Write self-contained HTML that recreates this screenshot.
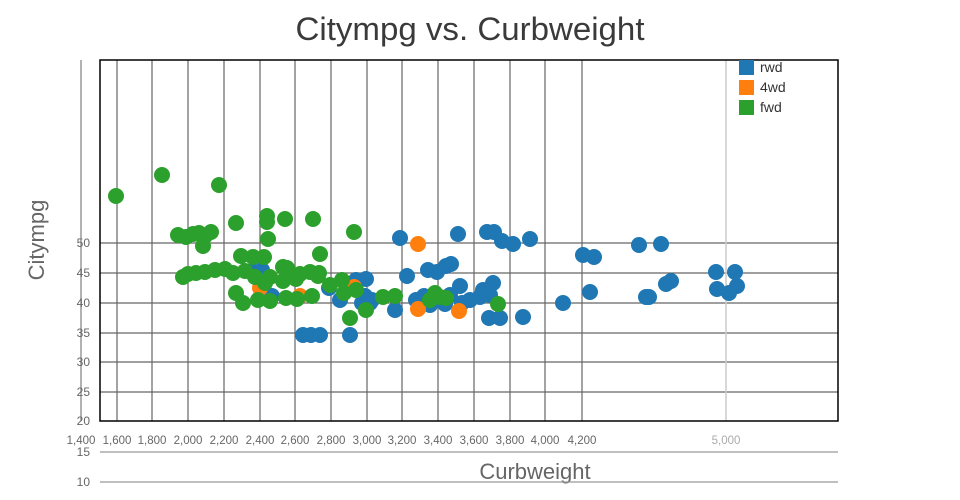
<!DOCTYPE html>
<html><head><meta charset="utf-8"><style>body{margin:0;background:#fff}svg{display:block}text{font-family:"Liberation Sans",sans-serif}</style></head>
<body>
<svg width="960" height="500" xmlns="http://www.w3.org/2000/svg">
<text x="470" y="40" font-size="32" fill="#3a3a3a" text-anchor="middle" textLength="349" lengthAdjust="spacingAndGlyphs">Citympg vs. Curbweight</text>
<text x="44" y="240" font-size="22" fill="#666" text-anchor="middle" transform="rotate(-90 44 240)">Citympg</text>
<text x="535" y="479" font-size="22" fill="#666" text-anchor="middle">Curbweight</text>
<line x1="81" y1="60" x2="81" y2="421" stroke="#999" stroke-width="1.5"/>
<g stroke="#666" stroke-width="1.2">
<line x1="117" y1="60" x2="117" y2="421"/><line x1="152" y1="60" x2="152" y2="421"/><line x1="188" y1="60" x2="188" y2="421"/><line x1="224" y1="60" x2="224" y2="421"/><line x1="260" y1="60" x2="260" y2="421"/><line x1="295" y1="60" x2="295" y2="421"/><line x1="331" y1="60" x2="331" y2="421"/><line x1="367" y1="60" x2="367" y2="421"/><line x1="402" y1="60" x2="402" y2="421"/><line x1="438" y1="60" x2="438" y2="421"/><line x1="474" y1="60" x2="474" y2="421"/><line x1="510" y1="60" x2="510" y2="421"/><line x1="545" y1="60" x2="545" y2="421"/><line x1="582" y1="60" x2="582" y2="421"/>
<line x1="100" y1="243" x2="838" y2="243"/><line x1="100" y1="273" x2="838" y2="273"/><line x1="100" y1="303" x2="838" y2="303"/><line x1="100" y1="333" x2="838" y2="333"/><line x1="100" y1="362" x2="838" y2="362"/><line x1="100" y1="392" x2="838" y2="392"/>
<line x1="100" y1="452" x2="838" y2="452" stroke="#999"/><line x1="100" y1="482" x2="838" y2="482" stroke="#999"/>
</g>
<line x1="726" y1="60" x2="726" y2="421" stroke="#ccc" stroke-width="1.5"/>
<rect x="100" y="60" width="738" height="361" fill="none" stroke="#000" stroke-width="1.5"/>
<g font-size="12" fill="#666" text-anchor="end">
<text x="90" y="247">50</text><text x="90" y="277">45</text><text x="90" y="307">40</text><text x="90" y="337">35</text><text x="90" y="366">30</text><text x="90" y="396">25</text><text x="90" y="425">20</text><text x="90" y="456">15</text><text x="90" y="486">10</text>
</g>
<g font-size="11.5" fill="#666" text-anchor="middle">
<text x="81" y="444">1,400</text><text x="117" y="444">1,600</text><text x="152" y="444">1,800</text><text x="188" y="444">2,000</text><text x="224" y="444">2,200</text><text x="260" y="444">2,400</text><text x="295" y="444">2,600</text><text x="331" y="444">2,800</text><text x="367" y="444">3,000</text><text x="402" y="444">3,200</text><text x="438" y="444">3,400</text><text x="474" y="444">3,600</text><text x="510" y="444">3,800</text><text x="545" y="444">4,000</text><text x="582" y="444">4,200</text><text x="726" y="444" fill="#aaa">5,000</text>
</g>
<g fill="#1f77b4">
<circle cx="400" cy="238" r="8"/><circle cx="458" cy="234" r="8"/><circle cx="487" cy="232" r="8"/><circle cx="494" cy="232" r="8"/><circle cx="502" cy="241" r="8"/><circle cx="513" cy="244" r="8"/><circle cx="530" cy="239" r="8"/><circle cx="583" cy="255" r="8"/><circle cx="594" cy="257" r="8"/><circle cx="639" cy="245" r="8"/><circle cx="661" cy="244" r="8"/><circle cx="716" cy="272" r="8"/><circle cx="735" cy="272" r="8"/><circle cx="717" cy="289" r="8"/><circle cx="737" cy="286" r="8"/><circle cx="729" cy="293" r="8"/><circle cx="666" cy="284" r="8"/><circle cx="671" cy="281" r="8"/><circle cx="646" cy="297" r="8"/><circle cx="649" cy="297" r="8"/><circle cx="590" cy="292" r="8"/><circle cx="563" cy="303" r="8"/><circle cx="523" cy="317" r="8"/><circle cx="489" cy="318" r="8"/><circle cx="500" cy="318" r="8"/><circle cx="407" cy="276" r="8"/><circle cx="428" cy="270" r="8"/><circle cx="437" cy="272" r="8"/><circle cx="446" cy="266" r="8"/><circle cx="451" cy="264" r="8"/><circle cx="395" cy="310" r="8"/><circle cx="362" cy="303" r="8"/><circle cx="370" cy="303" r="8"/><circle cx="366" cy="279" r="8"/><circle cx="350" cy="335" r="8"/><circle cx="303" cy="335" r="8"/><circle cx="311" cy="335" r="8"/><circle cx="320" cy="335" r="8"/><circle cx="416" cy="300" r="8"/><circle cx="424" cy="296" r="8"/><circle cx="434" cy="297" r="8"/><circle cx="450" cy="295" r="8"/><circle cx="460" cy="286" r="8"/><circle cx="470" cy="300" r="8"/><circle cx="480" cy="297" r="8"/><circle cx="490" cy="295" r="8"/><circle cx="493" cy="283" r="8"/><circle cx="483" cy="290" r="8"/><circle cx="445" cy="304" r="8"/><circle cx="430" cy="305" r="8"/><circle cx="462" cy="303" r="8"/><circle cx="252" cy="271" r="8"/><circle cx="262" cy="270" r="8"/><circle cx="272" cy="296" r="8"/><circle cx="329" cy="288" r="8"/><circle cx="340" cy="300" r="8"/><circle cx="356" cy="280" r="8"/><circle cx="365" cy="296" r="8"/><circle cx="372" cy="300" r="8"/>
</g>
<g fill="#ff7f0e">
<circle cx="418" cy="244" r="8"/><circle cx="418" cy="309" r="8"/><circle cx="459" cy="311" r="8"/><circle cx="354" cy="287" r="8"/><circle cx="300" cy="296" r="8"/><circle cx="260" cy="288" r="8"/>
</g>
<g fill="#2ca02c">
<circle cx="116" cy="196" r="8"/><circle cx="162" cy="175" r="8"/><circle cx="219" cy="185" r="8"/><circle cx="236" cy="223" r="8"/><circle cx="267" cy="216" r="8"/><circle cx="267" cy="222" r="8"/><circle cx="285" cy="219" r="8"/><circle cx="313" cy="219" r="8"/><circle cx="354" cy="232" r="8"/><circle cx="268" cy="239" r="8"/>
<circle cx="178" cy="235" r="8"/><circle cx="186" cy="237" r="8"/><circle cx="193" cy="234" r="8"/><circle cx="199" cy="233" r="8"/><circle cx="205" cy="236" r="8"/><circle cx="211" cy="232" r="8"/><circle cx="203" cy="246" r="8"/>
<circle cx="241" cy="256" r="8"/><circle cx="253" cy="257" r="8"/><circle cx="264" cy="257" r="8"/><circle cx="283" cy="267" r="8"/><circle cx="320" cy="254" r="8"/><circle cx="319" cy="273" r="8"/>
<circle cx="183" cy="277" r="8"/><circle cx="188" cy="274" r="8"/><circle cx="196" cy="273" r="8"/><circle cx="205" cy="272" r="8"/><circle cx="215" cy="270" r="8"/><circle cx="225" cy="269" r="8"/><circle cx="233" cy="273" r="8"/><circle cx="245" cy="271" r="8"/><circle cx="255" cy="277" r="8"/><circle cx="265" cy="283" r="8"/><circle cx="270" cy="277" r="8"/><circle cx="287" cy="268" r="8"/><circle cx="300" cy="274" r="8"/><circle cx="310" cy="272" r="8"/><circle cx="318" cy="276" r="8"/><circle cx="296" cy="279" r="8"/><circle cx="283" cy="281" r="8"/>
<circle cx="236" cy="293" r="8"/><circle cx="243" cy="303" r="8"/><circle cx="258" cy="300" r="8"/><circle cx="270" cy="301" r="8"/><circle cx="286" cy="298" r="8"/><circle cx="297" cy="299" r="8"/><circle cx="312" cy="296" r="8"/><circle cx="330" cy="285" r="8"/><circle cx="342" cy="280" r="8"/><circle cx="344" cy="293" r="8"/>
<circle cx="350" cy="318" r="8"/><circle cx="366" cy="310" r="8"/><circle cx="383" cy="297" r="8"/><circle cx="395" cy="296" r="8"/><circle cx="435" cy="293" r="8"/><circle cx="440" cy="297" r="8"/><circle cx="446" cy="298" r="8"/><circle cx="430" cy="300" r="8"/><circle cx="498" cy="304" r="8"/><circle cx="356" cy="290" r="8"/>
</g>
<rect x="739" y="60" width="15" height="15" fill="#1f77b4"/><text x="760" y="72" font-size="14" fill="#333">rwd</text>
<rect x="739" y="80" width="15" height="15" fill="#ff7f0e"/><text x="760" y="92" font-size="14" fill="#333">4wd</text>
<rect x="739" y="100" width="15" height="15" fill="#2ca02c"/><text x="760" y="112" font-size="14" fill="#333">fwd</text>
</svg>
</body></html>
